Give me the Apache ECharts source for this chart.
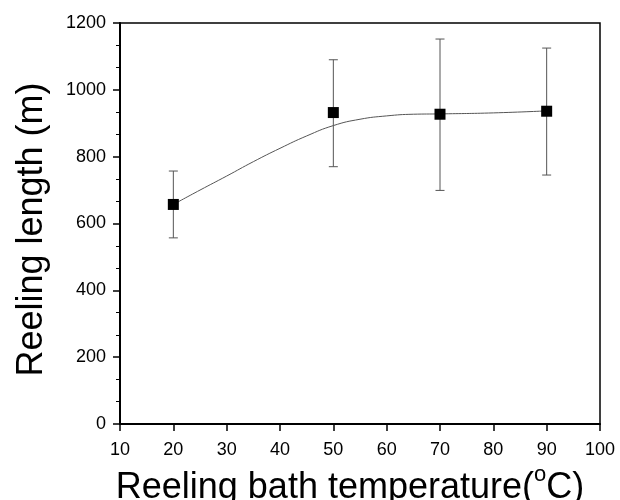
<!DOCTYPE html>
<html>
<head>
    <meta charset="utf-8">
    <script src="https://cdn.jsdelivr.net/npm/echarts@6/dist/echarts.min.js"></script>
</head>
<body style="margin:0;background:#fff">
    <div id="main" style="width:620px;height:500px"></div>
    <script type="text/javascript">
        // measured points
        var temps = [20, 50, 70, 90];
        var lengths = [657, 932, 927, 936];
        var errLow = [557, 770, 699, 745];
        var errHigh = [757, 1090, 1152, 1125];
        // fitted curve
        var curveX = [20, 25, 30, 35, 40, 45, 50, 55, 60, 65, 70, 80, 90];
        var curveY = [657, 700, 742, 785, 825, 862, 893, 912, 922, 927, 928, 931, 937];

        var points = temps.map(function (t, i) { return [t, lengths[i]]; });
        var bars = temps.map(function (t, i) { return [t, errLow[i], errHigh[i]]; });
        var curve = curveX.map(function (x, i) { return [x, curveY[i]]; });

        var myChart = echarts.init(document.getElementById('main'));
        var font = 'Liberation Sans, Arial, sans-serif';
        var option = {
            animation: false,
            grid: {
                left: 120, right: 20, top: 23, bottom: 76,
                outerBoundsMode: 'none', containLabel: false,
                show: true, borderColor: '#000', borderWidth: 1.5
            },
            xAxis: {
                type: 'value', min: 10, max: 100, interval: 10,
                name: 'Reeling bath temperature({sup|o}C)',
                nameLocation: 'middle', nameGap: 40,
                nameTextStyle: {
                    fontFamily: font, fontSize: 36, color: '#000', padding: [0, 20, 0, 0],
                    rich: { sup: { fontFamily: font, fontSize: 22, color: '#000', padding: [0, 0, 26, 0] } }
                },
                axisLine: { lineStyle: { color: '#000', width: 2 } },
                axisTick: { length: 7, lineStyle: { color: '#000', width: 1.5 } },
                axisLabel: { margin: 17, fontFamily: font, fontSize: 18, color: '#000' },
                splitLine: { show: false }
            },
            yAxis: {
                type: 'value', min: 0, max: 1200, interval: 200,
                name: 'Reeling length (m)',
                nameLocation: 'middle', nameGap: 70,
                nameTextStyle: { fontFamily: font, fontSize: 36, color: '#000', padding: [0, 12, 0, 0] },
                axisLine: { show: true, lineStyle: { color: '#000', width: 2 } },
                axisTick: { show: true, length: 7, lineStyle: { color: '#000', width: 1.5 } },
                minorTick: { show: true, splitNumber: 3, length: 4, lineStyle: { color: '#000', width: 1 } },
                axisLabel: {
                    margin: 14, fontFamily: font, fontSize: 18, color: '#000',
                    formatter: function (v) { return String(v); }
                },
                splitLine: { show: false }
            },
            series: [
                {
                    type: 'line', data: curve, smooth: true, showSymbol: false,
                    lineStyle: { color: '#555', width: 1 }, z: 2
                },
                {
                    type: 'custom', data: bars, z: 3,
                    renderItem: function (params, api) {
                        var lo = api.coord([api.value(0), api.value(1)]);
                        var hi = api.coord([api.value(0), api.value(2)]);
                        var w = 4.5;
                        var st = { stroke: '#555', lineWidth: 1 };
                        return {
                            type: 'group',
                            children: [
                                { type: 'line', shape: { x1: lo[0], y1: lo[1], x2: hi[0], y2: hi[1] }, style: st },
                                { type: 'line', shape: { x1: lo[0] - w, y1: lo[1], x2: lo[0] + w, y2: lo[1] }, style: st },
                                { type: 'line', shape: { x1: hi[0] - w, y1: hi[1], x2: hi[0] + w, y2: hi[1] }, style: st }
                            ]
                        };
                    }
                },
                {
                    type: 'scatter', data: points, symbol: 'rect', symbolSize: 11,
                    itemStyle: { color: '#000', opacity: 1 }, z: 4
                }
            ]
        };
        myChart.setOption(option);
    </script>
</body>
</html>
